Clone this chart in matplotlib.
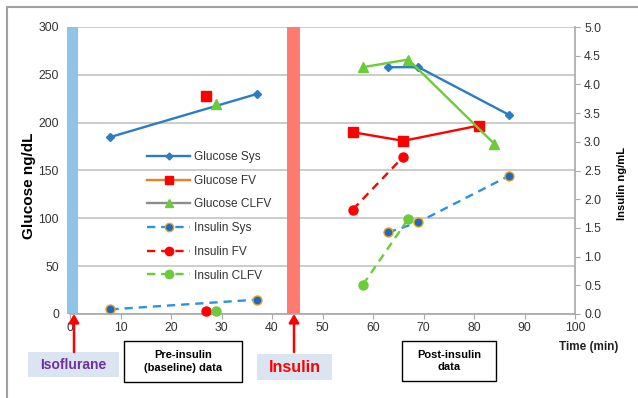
import matplotlib
matplotlib.use("Agg")
import matplotlib.pyplot as plt
from matplotlib.lines import Line2D
from matplotlib.patches import FancyBboxPatch, Rectangle

plt.rcParams['font.family'] = ['Liberation Sans', 'DejaVu Sans']

# ---- data ----
t_glu_sys_pre, glu_sys_pre = [8, 37], [185, 230]
t_glu_sys_post, glu_sys_post = [63, 69, 87], [258, 258, 208]
t_glu_fv_pre, glu_fv_pre = [27], [228]
t_glu_fv_post, glu_fv_post = [56, 66, 81], [190, 181, 197]
t_glu_clfv_pre, glu_clfv_pre = [29], [219]
t_glu_clfv_post, glu_clfv_post = [58, 67, 84], [258, 266, 178]

t_ins_sys_pre, ins_sys_pre = [8, 37], [0.08, 0.25]
t_ins_sys_post, ins_sys_post = [63, 69, 87], [1.42, 1.60, 2.41]
t_ins_fv_pre, ins_fv_pre = [27], [0.05]
t_ins_fv_post, ins_fv_post = [56, 66], [1.82, 2.74]
t_ins_clfv_pre, ins_clfv_pre = [29], [0.06]
t_ins_clfv_post, ins_clfv_post = [58, 67], [0.51, 1.66]

isoflurane_t = 0.55
insulin_t = 44.2

x_ticks = list(range(0, 101, 10))
glu_ticks = list(range(0, 301, 50))
ins_ticks = [i * 0.5 for i in range(11)]

# ---- colors ----
c_sys = '#2b7cc7'
c_ins_sys = '#2a93dc'
c_ins_sys_mk = '#1f68bd'
c_ins_sys_edge = '#e2a52a'
c_red = '#ff0000'
c_green = '#6ccb3a'
c_grid = '#c4c4c4'
c_text = '#333333'

W, H = 638, 398
fig = plt.figure(figsize=(W / 100, H / 100), dpi=100)

def fx(x):
    return x / W

def fy(y):
    return 1 - y / H

L, R, T, B = 70, 575, 27, 314
ax = fig.add_axes([fx(L), fy(B), (R - L) / W, (B - T) / H])
ax2 = ax.twinx()

ax.set_xlim(0, 100)
ax.set_ylim(0, 300)
ax2.set_ylim(0, 5)

ax.set_xticks(x_ticks)
ax.set_yticks(glu_ticks)
ax2.set_yticks(ins_ticks)
ax2.set_yticklabels([f"{v:.1f}" for v in ins_ticks])

ax.grid(axis='y', color=c_grid, lw=1.2, zorder=0)
ax.set_axisbelow(True)
for s in ['top', 'left']:
    ax.spines[s].set_visible(False)
    ax2.spines[s].set_visible(False)
ax2.spines['bottom'].set_visible(False)
ax.spines['right'].set_visible(False)
ax.spines['bottom'].set_color('#a8a8a8')
ax.spines['bottom'].set_linewidth(1.2)
ax2.spines['right'].set_color('#a8a8a8')
ax2.spines['right'].set_linewidth(1.2)
ax.tick_params(axis='y', length=0, labelsize=8.8, labelcolor=c_text, pad=8)
ax.tick_params(axis='x', length=3.5, color='#a8a8a8', labelsize=8.8, labelcolor=c_text, pad=2)
ax2.tick_params(axis='y', length=3.5, color='#a8a8a8', labelsize=8.8, labelcolor=c_text, pad=3)

# event bars
ax.bar([isoflurane_t], [300], width=2.2, color='#8fc4e8', zorder=1.5, clip_on=False)
ax.bar([insulin_t], [300], width=2.6, color='#ff7b70', zorder=1.5, clip_on=False)

# glucose series (left axis)
for tt, vv in [(t_glu_sys_pre, glu_sys_pre), (t_glu_sys_post, glu_sys_post)]:
    ax.plot(tt, vv, color=c_sys, lw=1.7, marker='D', ms=4.5, zorder=3)
for tt, vv in [(t_glu_fv_pre, glu_fv_pre), (t_glu_fv_post, glu_fv_post)]:
    ax.plot(tt, vv, color=c_red, lw=1.7, marker='s', ms=6.5, zorder=3)
for tt, vv in [(t_glu_clfv_pre, glu_clfv_pre), (t_glu_clfv_post, glu_clfv_post)]:
    ax.plot(tt, vv, color=c_green, lw=1.7, marker='^', ms=6.5, zorder=3)

dash = (0, (3.5, 2.5))
for tt, vv in [(t_ins_sys_pre, ins_sys_pre), (t_ins_sys_post, ins_sys_post)]:
    ax2.plot(tt, vv, color=c_ins_sys, lw=1.7, ls=dash, marker='o', ms=6.5,
             mfc=c_ins_sys_mk, mec=c_ins_sys_edge, mew=1.0, zorder=3, clip_on=False)
for tt, vv in [(t_ins_fv_pre, ins_fv_pre), (t_ins_fv_post, ins_fv_post)]:
    ax2.plot(tt, vv, color=c_red, lw=1.7, ls=dash, marker='o', ms=6.5, zorder=3, clip_on=False)
for tt, vv in [(t_ins_clfv_pre, ins_clfv_pre), (t_ins_clfv_post, ins_clfv_post)]:
    ax2.plot(tt, vv, color=c_green, lw=1.7, ls=dash, marker='o', ms=6.5, zorder=3, clip_on=False)

# legend proxies
handles = [
    Line2D([], [], color=c_sys, lw=1.7, marker='D', ms=3.5),
    Line2D([], [], color='#f07d28', lw=1.7, marker='s', ms=6, mfc=c_red, mec=c_red),
    Line2D([], [], color='#8c8c8c', lw=1.7, marker='^', ms=6, mfc=c_green, mec=c_green),
    Line2D([], [], color=c_ins_sys, lw=1.7, ls=dash, marker='o', ms=6,
           mfc=c_ins_sys_mk, mec=c_ins_sys_edge, mew=1.0),
    Line2D([], [], color=c_red, lw=1.7, ls=dash, marker='o', ms=6),
    Line2D([], [], color=c_green, lw=1.7, ls=dash, marker='o', ms=6),
]
labels = ['Glucose Sys', 'Glucose FV', 'Glucose CLFV', 'Insulin Sys', 'Insulin FV', 'Insulin CLFV']
leg = ax2.legend(handles, labels, loc='upper left', bbox_to_anchor=(fx(147), fy(151)),
                 bbox_transform=fig.transFigure, frameon=False, fontsize=8.6,
                 handlelength=3.6, handletextpad=0.35, labelspacing=0.98,
                 borderpad=0, borderaxespad=0)
for txt in leg.get_texts():
    txt.set_color(c_text)

# axis labels
fig.text(fx(29), fy(186), 'Glucose ng/dL', rotation=90, ha='center', va='center',
         fontsize=11, fontweight='bold', color='black')
fig.text(fx(622), fy(184), 'Insulin ng/mL', rotation=90, ha='center', va='center',
         fontsize=8, fontweight='bold', color='black')
fig.text(fx(589), fy(347), 'Time (min)', ha='center', va='center',
         fontsize=8.5, fontweight='bold', color='#222222')

# annotation boxes
def box(x0, y0, x1, y1, fc, ec, lw):
    fig.patches.append(Rectangle((fx(x0), fy(y1)), (x1 - x0) / W, (y1 - y0) / H,
                                 transform=fig.transFigure, fc=fc, ec=ec, lw=lw))

box(28, 352, 119, 377, '#dbe5f1', 'none', 0)
fig.text(fx(73.5), fy(365), 'Isoflurane', ha='center', va='center',
         fontsize=10, fontweight='bold', color='#7030a0')
box(257, 354, 332, 380, '#dbe5f1', 'none', 0)
fig.text(fx(294.5), fy(367.5), 'Insulin', ha='center', va='center',
         fontsize=11.5, fontweight='bold', color='#ff0000')
box(124, 341, 242, 382, 'white', 'black', 1.0)
fig.text(fx(183), fy(361.5), 'Pre-insulin\n(baseline) data', ha='center', va='center',
         fontsize=8, fontweight='bold', color='black', linespacing=1.35)
box(402, 341, 496, 381, 'white', 'black', 1.0)
fig.text(fx(449), fy(361), 'Post-insulin\ndata', ha='center', va='center',
         fontsize=8, fontweight='bold', color='black', linespacing=1.35)

# arrows
for xa in [74, 294]:
    fig.patches.append(matplotlib.patches.FancyArrowPatch(
        (fx(xa), fy(352)), (fx(xa), fy(314)), transform=fig.transFigure,
        arrowstyle='-|>,head_length=5,head_width=3', color='#ff0000', lw=1.8,
        shrinkA=0, shrinkB=0))

# outer frame
fig.lines.append(Line2D([fx(7), fx(7), fx(640)], [fy(400), fy(7), fy(7)],
                        transform=fig.transFigure, color='#a0a0a0', lw=1.5))

fig.savefig('out.png', dpi=100)
